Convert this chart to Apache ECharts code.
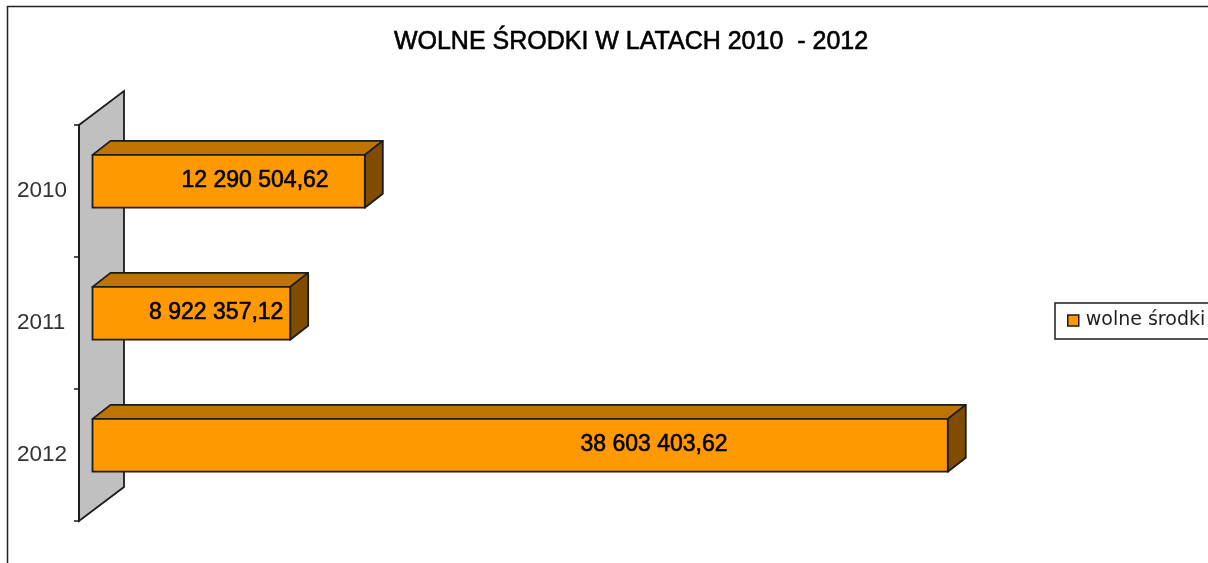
<!DOCTYPE html>
<html>
<head>
<meta charset="utf-8">
<style>
html, body { margin: 0; padding: 0; background: #fff; }
#chart { width: 1208px; height: 563px; }
</style>
<script src="https://cdn.jsdelivr.net/npm/echarts@6/dist/echarts.min.js"></script>
</head>
<body>
<div id="chart"></div>
<script>
var titleText = 'WOLNE ŚRODKI W LATACH 2010  - 2012';
var seriesName = 'wolne środki';
var years = ['2010', '2011', '2012'];
var wolneSrodki = [12290504.62, 8922357.12, 38603403.62];
var valueLabels = ['12 290 504,62', '8 922 357,12', '38 603 403,62'];

// where the label sits along the bar, the original ones were not centred
var labelAlong = [0.597, 0.626, 0.6565];

var lineColor = '#1c1c1c';
var frontColor = '#ff9900';
var topColor = '#bf7300';
var sideColor = '#7f4c00';
var wallColor = '#c0c0c0';

// fake 3d: bars stand a bit off the front edge of the wall
var barShift = [13.5, -9.7];
var barDepth = [18, -14];
var wallDepth = [45, -34];
var barRatio = 0.4;

function renderWall(params, api) {
	var c = params.coordSys;
	return {
		type: 'polygon',
		shape: {
			points: [
				[c.x, c.y],
				[c.x + wallDepth[0], c.y + wallDepth[1]],
				[c.x + wallDepth[0], c.y + c.height + wallDepth[1]],
				[c.x, c.y + c.height]
			]
		},
		style: { fill: wallColor, stroke: lineColor, lineWidth: 1.8 }
	};
}

function renderBar(params, api) {
	var i = api.value(1);
	var start = api.coord([0, i]);
	var end = api.coord([api.value(0), i]);
	var h = api.size([0, 1])[1] * barRatio;
	var x0 = start[0] + barShift[0];
	var x1 = end[0] + barShift[0];
	var y0 = start[1] + barShift[1] - h / 2;
	var y1 = y0 + h;
	var dx = barDepth[0];
	var dy = barDepth[1];
	var line = { stroke: lineColor, lineWidth: 1.8, lineJoin: 'round' };
	return {
		type: 'group',
		children: [
			{
				type: 'polygon',
				shape: { points: [[x0, y0], [x0 + dx, y0 + dy], [x1 + dx, y0 + dy], [x1, y0]] },
				style: Object.assign({ fill: topColor }, line)
			},
			{
				type: 'polygon',
				shape: { points: [[x1, y0], [x1 + dx, y0 + dy], [x1 + dx, y1 + dy], [x1, y1]] },
				style: Object.assign({ fill: sideColor }, line)
			},
			{
				type: 'rect',
				shape: { x: x0, y: y0, width: x1 - x0, height: h },
				style: Object.assign({ fill: frontColor }, line)
			},
			{
				type: 'text',
				style: {
					x: x0 + (x1 - x0) * labelAlong[i],
					y: y0 + h / 2 - 1,
					text: valueLabels[i],
					align: 'center',
					verticalAlign: 'middle',
					fill: '#000',
					stroke: '#000',
					lineWidth: 0.6,
					font: '23px "Liberation Sans"'
				}
			}
		]
	};
}

var myChart = echarts.init(document.getElementById('chart'));

var option = {
	animation: false,
	backgroundColor: '#fff',
	title: {
		text: titleText,
		left: 631,
		top: 25,
		textAlign: 'center',
		padding: [5, 9, 5, 0],
		textStyle: {
			color: '#000',
			fontFamily: 'Liberation Sans',
			fontSize: 25,
			fontWeight: 'normal',
			textBorderColor: '#000',
			textBorderWidth: 0.6
		}
	},
	legend: {
		data: [{
			name: seriesName,
			icon: 'rect',
			itemStyle: { color: frontColor, borderColor: lineColor, borderWidth: 1.5 }
		}],
		left: 1055,
		top: 303,
		padding: [8, 14, 9, 12],
		itemWidth: 11,
		itemHeight: 11,
		itemGap: 0,
		borderColor: lineColor,
		borderWidth: 1.5,
		textStyle: { color: '#222', fontFamily: 'DejaVu Sans', fontSize: 19, padding: [0, 0, 0, 2] }
	},
	graphic: [{
		// frame of the chart area, runs off the right and bottom of the picture
		type: 'rect',
		silent: true,
		z: -1,
		shape: { x: 7.5, y: 6.5, width: 1400, height: 800 },
		style: { fill: 'none', stroke: '#222', lineWidth: 1.5 }
	}],
	grid: { left: 79, top: 125, width: 997, height: 396, containLabel: false },
	xAxis: { type: 'value', min: 0, max: 45000000, show: false },
	yAxis: {
		type: 'category',
		inverse: true,
		data: years,
		z: 3,
		axisLine: { show: true, lineStyle: { color: lineColor, width: 1.8 } },
		axisTick: { show: true, length: 5, lineStyle: { color: lineColor, width: 1.5 } },
		axisLabel: {
			color: '#333',
			fontFamily: 'Liberation Sans',
			fontSize: 22.5,
			align: 'left',
			margin: 62
		},
		splitLine: { show: false }
	},
	series: [{
		type: 'custom',
		name: 'wall',
		silent: true,
		z: 1,
		renderItem: renderWall,
		data: [[0, 0]]
	}, {
		type: 'custom',
		name: seriesName,
		z: 2,
		itemStyle: { color: frontColor },
		renderItem: renderBar,
		encode: { x: 0, y: 1 },
		data: wolneSrodki.map(function(v, i) { return [v, i]; })
	}]
};

myChart.setOption(option);
</script>
</body>
</html>
